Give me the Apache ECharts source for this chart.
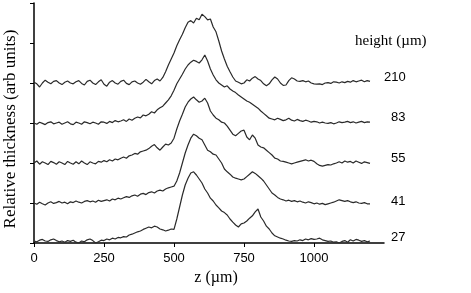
<!DOCTYPE html>
<html><head><meta charset="utf-8">
<script src="https://cdn.jsdelivr.net/npm/echarts@6/dist/echarts.min.js"></script>
<style>html,body{margin:0;padding:0;background:#fff}#c{width:471px;height:293px}</style>
</head><body><div id="c"></div>
<script>
// z positions (µm), step 10, 0..1200
const zValues = [0,10,20,30,40,50,60,70,80,90,100,
 110,120,130,140,150,160,170,180,190,200,
 210,220,230,240,250,260,270,280,290,300,
 310,320,330,340,350,360,370,380,390,400,
 410,420,430,440,450,460,470,480,490,500,
 510,520,530,540,550,560,570,580,590,600,
 610,620,630,640,650,660,670,680,690,700,
 710,720,730,740,750,760,770,780,790,800,
 810,820,830,840,850,860,870,880,890,900,
 910,920,930,940,950,960,970,980,990,1000,
 1010,1020,1030,1040,1050,1060,1070,1080,1090,1100,
 1110,1120,1130,1140,1150,1160,1170,1180,1190,1200];
const heightLabels = ['210','83','55','41','27'];
const xTicks = [0,250,500,750,1000];
const h210 = [4.02,3.98,3.9,4.0,4.07,4.02,3.98,4.04,4.06,4.0,3.96,
 4.02,4.05,4.0,3.98,4.03,4.06,3.99,3.95,4.04,4.07,
 4.0,3.96,4.03,4.08,3.97,3.92,4.02,4.06,4.0,3.97,
 4.04,4.07,3.99,3.96,4.03,4.05,4.0,3.97,4.02,4.09,
 4.03,3.98,4.06,4.1,4.05,4.14,4.28,4.45,4.6,4.75,
 4.93,5.08,5.22,5.38,5.52,5.56,5.5,5.62,5.58,5.72,
 5.66,5.58,5.6,5.4,5.28,5.05,4.8,4.6,4.42,4.28,
 4.15,4.05,4.02,3.98,4.0,4.08,4.05,4.12,4.16,4.1,
 4.06,3.98,3.93,3.98,4.08,4.15,4.1,4.0,3.94,3.95,
 4.06,4.13,4.1,4.05,4.04,4.06,4.03,4.05,4.0,3.98,
 3.97,3.98,3.96,4.0,4.01,3.99,4.03,4.02,4.0,4.03,
 4.01,4.04,4.02,4.06,4.03,4.05,4.07,4.03,4.06,4.04];
const h83 = [3.0,2.97,3.02,2.99,2.96,3.01,3.03,2.98,3.0,3.02,2.97,
 3.0,3.03,2.98,2.96,3.02,3.0,2.97,3.03,3.01,2.98,
 3.02,3.0,2.97,3.03,3.02,2.99,3.04,3.01,3.06,3.03,
 3.05,3.08,3.04,3.1,3.07,3.12,3.15,3.13,3.2,3.18,
 3.22,3.28,3.25,3.33,3.38,3.42,3.5,3.58,3.68,3.82,
 3.98,4.1,4.22,4.35,4.45,4.52,4.57,4.54,4.5,4.58,
 4.7,4.55,4.35,4.2,4.08,4.0,3.95,3.9,3.93,3.85,
 3.8,3.76,3.7,3.65,3.6,3.55,3.52,3.47,3.42,3.37,
 3.3,3.24,3.18,3.12,3.1,3.08,3.12,3.09,3.06,3.08,
 3.12,3.07,3.05,3.09,3.06,3.04,3.07,3.05,3.02,3.04,
 3.03,3.0,3.02,3.0,2.99,3.01,2.98,3.0,3.03,3.01,
 3.02,3.04,3.01,3.03,3.0,3.02,3.04,3.01,3.03,3.02];
const h55 = [2.0,2.05,1.97,2.03,2.0,1.96,2.04,2.01,1.97,2.03,2.0,
 1.96,2.04,2.0,1.97,2.03,1.98,2.05,2.0,1.96,2.03,
 2.0,1.98,2.04,2.02,2.06,2.03,2.08,2.05,2.1,2.08,
 2.12,2.15,2.12,2.18,2.2,2.24,2.22,2.28,2.3,2.32,
 2.36,2.42,2.46,2.38,2.32,2.4,2.47,2.45,2.5,2.62,
 2.85,3.05,3.22,3.4,3.52,3.6,3.65,3.58,3.52,3.55,
 3.62,3.5,3.3,3.2,3.12,3.08,3.02,3.0,2.92,2.82,
 2.72,2.68,2.74,2.8,2.82,2.65,2.58,2.7,2.62,2.45,
 2.4,2.38,2.32,2.26,2.2,2.12,2.1,2.05,2.04,2.02,
 2.0,1.98,2.0,2.02,2.04,2.06,2.08,2.05,2.07,2.04,
 1.98,1.94,1.92,1.94,1.96,1.95,1.98,2.0,2.03,2.0,
 2.05,2.02,2.04,2.0,2.05,2.02,1.99,2.03,2.01,1.99];
const h41 = [1.0,0.97,1.02,0.98,0.95,1.0,1.03,0.99,1.01,1.04,1.0,
 1.02,0.98,1.03,1.01,1.05,1.02,1.0,1.04,1.06,1.03,
 1.05,1.02,1.07,1.04,1.06,1.08,1.05,1.1,1.08,1.12,
 1.1,1.13,1.16,1.14,1.18,1.2,1.17,1.22,1.24,1.21,
 1.26,1.28,1.25,1.3,1.32,1.3,1.35,1.38,1.4,1.42,
 1.55,1.75,2.0,2.25,2.45,2.62,2.72,2.68,2.62,2.58,
 2.45,2.32,2.28,2.22,2.2,2.1,2.0,1.85,1.78,1.72,
 1.65,1.62,1.6,1.58,1.6,1.66,1.72,1.78,1.74,1.68,
 1.62,1.55,1.45,1.35,1.25,1.2,1.14,1.1,1.08,1.05,
 1.07,1.04,1.06,1.03,1.05,1.02,1.0,1.03,1.01,0.98,
 1.0,0.97,0.99,0.96,0.98,1.0,1.02,1.05,1.08,1.06,
 1.04,1.06,1.03,1.01,1.03,1.0,0.99,1.01,0.98,0.98];
const h27 = [0.05,0.03,0.07,0.09,0.05,0.04,0.08,0.1,0.06,0.03,0.05,
 0.02,0.06,0.04,0.07,0.02,0.0,0.05,0.03,0.08,0.1,
 0.06,0.0,0.03,0.07,0.06,0.1,0.08,0.12,0.1,0.14,
 0.13,0.16,0.15,0.2,0.22,0.25,0.28,0.3,0.34,0.37,
 0.4,0.38,0.42,0.4,0.35,0.33,0.3,0.32,0.35,0.34,
 0.6,0.9,1.2,1.45,1.62,1.75,1.78,1.7,1.6,1.5,
 1.35,1.25,1.12,1.05,0.95,0.88,0.8,0.76,0.7,0.6,
 0.52,0.45,0.4,0.48,0.5,0.55,0.62,0.68,0.78,0.85,
 0.65,0.55,0.42,0.35,0.25,0.18,0.15,0.12,0.1,0.07,
 0.05,0.04,0.06,0.05,0.08,0.06,0.1,0.08,0.11,0.09,
 0.1,0.12,0.08,0.06,0.04,0.05,0.02,0.03,0.0,0.04,
 0.06,0.02,0.08,0.05,0.09,0.07,0.04,0.06,0.03,0.05];
const seriesValues = [h210,h83,h55,h41,h27];

const chart = echarts.init(document.getElementById('c'), null, {renderer:'canvas'});
const sans = 'Liberation Sans, Arial, sans-serif';
const serif = 'Liberation Serif, Times New Roman, serif';
const labelPos = [[384,77],[391,117],[391,158],[391,201],[391,237]];
const option = {
  animation:false,
  backgroundColor:'#fff',
  grid:{left:34,right:87,top:3,bottom:50,containLabel:false,outerBoundsMode:'none'},
  xAxis:{type:'value',min:0,max:1250,interval:250,
    name:'z (\u00b5m)',nameLocation:'middle',nameGap:24,
    nameTextStyle:{fontFamily:serif,fontSize:16,color:'#000',padding:[0,0,0,14]},
    axisLine:{lineStyle:{color:'#000',width:1.5}},
    axisTick:{show:true,length:4,inside:false,customValues:xTicks,lineStyle:{color:'#000'}},
    axisLabel:{customValues:xTicks,formatter:v=>String(v),fontFamily:sans,fontSize:13,color:'#000',margin:9},
    splitLine:{show:false}},
  yAxis:{type:'value',min:0,max:6,interval:1,
    name:'Relative thickness (arb units)',nameLocation:'middle',nameGap:15,
    nameTextStyle:{fontFamily:serif,fontSize:17,color:'#000',padding:[0,12,0,0]},
    axisLine:{show:true,lineStyle:{color:'#000',width:1.5}},
    axisTick:{show:true,length:4,inside:false,lineStyle:{color:'#000'}},
    axisLabel:{show:false},splitLine:{show:false}},
  series: seriesValues.map((vals,i)=>({
    type:'line',name:heightLabels[i],showSymbol:false,symbol:'none',
    lineStyle:{color:'#2a2a2a',width:1.2},
    data: zValues.map((z,j)=>[z,vals[j]])
  })),
  graphic:[
    {type:'text',left:355,top:34,style:{text:'height (\u00b5m)',font:'15px '+serif,fill:'#000'}},
    ...heightLabels.map((t,i)=>({type:'text',x:labelPos[i][0],y:labelPos[i][1],
      style:{text:t,font:'13px '+sans,fill:'#000',align:'left',verticalAlign:'middle'}}))
  ]
};
chart.setOption(option);
</script></body></html>
